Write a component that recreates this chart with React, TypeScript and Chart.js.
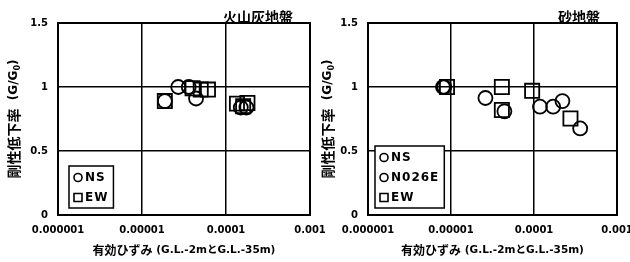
import React, { useEffect, useRef } from 'react';
import { Chart, registerables } from 'chart.js';
Chart.register(...registerables);

const xTickValues = [1e-6, 1e-5, 1e-4, 1e-3];
const xTickLabels = ['0.000001', '0.00001', '0.0001', '0.001'];
const yTickValues = [0, 0.5, 1, 1.5];
const yTickLabels = ['0', '0.5', '1', '1.5'];

const ashTitle = '火山灰地盤';
const sandTitle = '砂地盤';
const xTitleMain = '有効ひずみ';
const xTitleSub = ' (G.L.-2mとG.L.-35m)';
const yTitleMain = '剛性低下率';

// 火山灰地盤
const ashNSStrain = [1.87e-5, 2.7e-5, 3.6e-5, 4.4e-5, 1.5e-4, 1.75e-4];
const ashNSRatio = [0.89, 1.0, 1.0, 0.91, 0.84, 0.84];
const ashEWStrain = [1.87e-5, 4.0e-5, 5.0e-5, 6.1e-5, 1.35e-4, 1.6e-4, 1.8e-4];
const ashEWRatio = [0.89, 0.99, 0.98, 0.98, 0.87, 0.85, 0.875];

// 砂地盤
const sandNSStrain = [8.0e-6, 2.6e-5, 1.18e-4, 2.2e-4];
const sandNSRatio = [1.0, 0.914, 0.846, 0.89];
const sandN026EStrain = [8.3e-6, 4.4e-5, 1.7e-4, 3.6e-4];
const sandN026ERatio = [1.0, 0.81, 0.846, 0.676];
const sandEWStrain = [8.95e-6, 4.1e-5, 4.1e-5, 9.5e-5, 2.75e-4];
const sandEWRatio = [1.0, 1.0, 0.82, 0.97, 0.754];

const pts = (xs: number[], ys: number[]) => xs.map((x, i) => ({ x, y: ys[i] }));

const circleSet = (label: string, xs: number[], ys: number[]) => ({
  label,
  data: pts(xs, ys),
  pointStyle: 'circle',
  pointRadius: 7,
  pointHoverRadius: 7,
  pointBorderColor: '#000',
  pointBackgroundColor: 'rgba(0,0,0,0)',
  pointBorderWidth: 1.8,
  showLine: false,
});
const rectSet = (label: string, xs: number[], ys: number[]) => ({
  label,
  data: pts(xs, ys),
  pointStyle: 'rect',
  pointRadius: 10,
  pointHoverRadius: 10,
  pointBorderColor: '#000',
  pointBackgroundColor: 'rgba(0,0,0,0)',
  pointBorderWidth: 1.8,
  showLine: false,
});

const CJK = '"Noto Sans CJK JP"';
const LAT = '"DejaVu Sans"';

const overlayPlugin = {
  id: 'overlay',
  afterDraw(chart: any, _args: any, opts: any) {
    const { ctx, chartArea: a } = chart;
    ctx.save();
    ctx.strokeStyle = '#000';
    ctx.lineWidth = 2;
    ctx.strokeRect(a.left, a.top, a.right - a.left, a.bottom - a.top);

    ctx.fillStyle = '#000';
    // title
    ctx.font = `bold 14px ${CJK}`;
    ctx.textAlign = 'right';
    ctx.textBaseline = 'alphabetic';
    ctx.fillText(opts.title, a.right - 17, a.top - 1);

    // x title
    ctx.textBaseline = 'middle';
    ctx.textAlign = 'left';
    ctx.font = `bold 12px ${CJK}`;
    const w1 = ctx.measureText(xTitleMain).width;
    ctx.font = `bold 10.5px ${LAT}, ${CJK}`;
    const w2 = ctx.measureText(xTitleSub).width;
    const cx = (a.left + a.right) / 2;
    const x0 = cx - (w1 + w2) / 2;
    ctx.font = `bold 12px ${CJK}`;
    ctx.fillText(xTitleMain, x0, 250);
    ctx.font = `bold 10.5px ${LAT}, ${CJK}`;
    ctx.fillText(xTitleSub, x0 + w1, 250);

    // y title
    ctx.save();
    ctx.translate(opts.yTitleX, (a.top + a.bottom) / 2);
    ctx.rotate(-Math.PI / 2);
    ctx.textBaseline = 'middle';
    ctx.font = `bold 14px ${CJK}`;
    const p1 = yTitleMain;
    const m1 = ctx.measureText(p1).width;
    ctx.font = `bold 12px ${LAT}`;
    const p2 = '  (G/G';
    const m2 = ctx.measureText(p2).width;
    ctx.font = `bold 8px ${LAT}`;
    const m3 = ctx.measureText('0').width;
    ctx.font = `bold 12px ${LAT}`;
    const m4 = ctx.measureText(')').width;
    let yx = -(m1 + m2 + m3 + m4) / 2;
    ctx.font = `bold 14px ${CJK}`;
    ctx.fillText(p1, yx, 0);
    yx += m1;
    ctx.font = `bold 12px ${LAT}`;
    ctx.fillText(p2, yx, 0);
    yx += m2;
    ctx.font = `bold 8px ${LAT}`;
    ctx.fillText('0', yx, 4);
    yx += m3;
    ctx.font = `bold 12px ${LAT}`;
    ctx.fillText(')', yx, 0);
    ctx.restore();

    // legend
    const ds = chart.data.datasets;
    const n = ds.length;
    ctx.font = `bold 12px ${LAT}`;
    (ctx as any).letterSpacing = '1px';
    let tw = 0;
    ds.forEach((d: any) => {
      tw = Math.max(tw, ctx.measureText(d.label).width);
    });
    const bx = a.left + opts.legendX;
    const bh = n * 20 + 2;
    const by = a.bottom - 7 - bh;
    const bw = 16 + tw + 5;
    ctx.fillStyle = '#fff';
    ctx.fillRect(bx, by, bw, bh);
    ctx.strokeStyle = '#000';
    ctx.lineWidth = 1.5;
    ctx.strokeRect(bx, by, bw, bh);
    ctx.fillStyle = '#000';
    ctx.textAlign = 'left';
    ctx.textBaseline = 'middle';
    ds.forEach((d: any, i: number) => {
      const ry = by + 11.5 + i * 20;
      const mx = bx + 9;
      ctx.lineWidth = 1.6;
      ctx.beginPath();
      if (d.pointStyle === 'rect') {
        ctx.rect(mx - 4, ry - 4, 8, 8);
      } else {
        ctx.arc(mx, ry, 4, 0, Math.PI * 2);
      }
      ctx.stroke();
      ctx.fillText(d.label, bx + 16, ry + 0.5);
    });
    ctx.restore();
  },
};

type PanelProps = {
  canvasLeft: number;
  canvasWidth: number;
  plotLeft: number;
  plotRight: number;
  datasets: any[];
  title: string;
  legendX: number;
  yTitleX: number;
  z: number;
};

function Panel(props: PanelProps) {
  const ref = useRef<HTMLCanvasElement>(null);
  useEffect(() => {
    const tickFont = { family: LAT, weight: 'bold' as const, size: 10 };
    const chart = new Chart(ref.current!, {
      type: 'scatter',
      data: { datasets: props.datasets },
      plugins: [overlayPlugin as any],
      options: {
        responsive: false,
        animation: false,
        events: [],
        layout: {
          padding: { top: 23, left: 0, bottom: 0, right: props.canvasWidth - props.plotRight },
        },
        plugins: {
          legend: { display: false },
          tooltip: { enabled: false },
          overlay: { title: props.title, legendX: props.legendX, yTitleX: props.yTitleX },
        } as any,
        scales: {
          x: {
            type: 'logarithmic',
            min: xTickValues[0],
            max: xTickValues[xTickValues.length - 1],
            afterBuildTicks: (s: any) => {
              s.ticks = xTickValues.map((v) => ({ value: v }));
            },
            afterFit: (s: any) => {
              s.height = 47;
            },
            ticks: {
              autoSkip: false,
              maxRotation: 0,
              padding: 9,
              color: '#000',
              font: tickFont,
              callback: (_v: any, i: number) => xTickLabels[i],
            },
            grid: { color: '#000', lineWidth: 1.5, drawTicks: false },
            border: { display: true, color: '#000', width: 2 },
          },
          y: {
            type: 'linear',
            min: yTickValues[0],
            max: yTickValues[yTickValues.length - 1],
            afterBuildTicks: (s: any) => {
              s.ticks = yTickValues.map((v) => ({ value: v }));
            },
            afterFit: (s: any) => {
              s.width = props.plotLeft;
            },
            ticks: {
              autoSkip: false,
              padding: 10,
              color: '#000',
              font: tickFont,
              callback: (_v: any, i: number) => yTickLabels[i],
            },
            grid: { color: '#000', lineWidth: 1.5, drawTicks: false },
            border: { display: true, color: '#000', width: 2 },
          },
        },
      },
    } as any);
    return () => chart.destroy();
  }, []);
  return (
    <canvas
      ref={ref}
      width={props.canvasWidth}
      height={262}
      style={{
        position: 'absolute',
        left: props.canvasLeft,
        top: 0,
        width: props.canvasWidth,
        height: 262,
        zIndex: props.z,
      }}
    />
  );
}

export default function App() {
  const ashSets = [circleSet('NS', ashNSStrain, ashNSRatio), rectSet('EW', ashEWStrain, ashEWRatio)];
  const sandSets = [
    circleSet('NS', sandNSStrain, sandNSRatio),
    circleSet('N026E', sandN026EStrain, sandN026ERatio),
    rectSet('EW', sandEWStrain, sandEWRatio),
  ];
  return (
    <div style={{ position: 'fixed', left: 0, top: 0, width: 630, height: 262, background: '#fff', overflow: 'hidden' }}>
      <Panel
        canvasLeft={0}
        canvasWidth={345}
        plotLeft={58}
        plotRight={310}
        datasets={ashSets}
        title={ashTitle}
        legendX={11}
        yTitleX={14}
        z={1}
      />
      <Panel
        canvasLeft={315}
        canvasWidth={345}
        plotLeft={53}
        plotRight={302}
        datasets={sandSets}
        title={sandTitle}
        legendX={7}
        yTitleX={13}
        z={2}
      />
    </div>
  );
}
